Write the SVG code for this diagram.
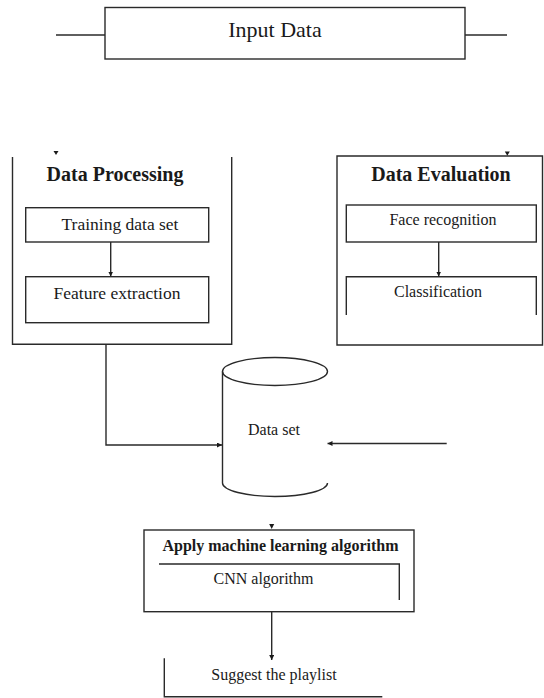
<svg xmlns="http://www.w3.org/2000/svg" width="544" height="698" viewBox="0 0 544 698">
<defs>
<style>
.ln{fill:none;stroke:#2a2a2a;stroke-width:1.4}
.t{font-family:"Liberation Serif","Times New Roman",serif;fill:#1a1a1a;text-anchor:middle}
.b{font-weight:bold}
.ah{fill:#1a1a1a}
</style>
<marker id="arr" viewBox="0 0 8 8" refX="8" refY="4" markerWidth="5" markerHeight="5" orient="auto" markerUnits="userSpaceOnUse">
<path d="M0,0 L8,4 L0,8 z" fill="#1a1a1a"/>
</marker>
</defs>
<rect width="544" height="698" fill="#ffffff"/>

<g id="input-data">
<rect class="ln" x="105" y="7.5" width="360" height="51.5"/>
<line class="ln" x1="56" y1="35" x2="105" y2="35"/>
<line class="ln" x1="465" y1="35" x2="507" y2="35"/>
<text class="t" x="275" y="37" font-size="22">Input Data</text>
</g>

<g id="data-processing">
<path class="ln" d="M12.5,157 V344.3 H231.7 V157"/>
<text class="t b" x="115" y="181" font-size="20">Data Processing</text>
</g>
<g id="training-data-set">
<rect class="ln" x="25.7" y="207.7" width="183" height="34.3"/>
<text class="t" x="120" y="229.5" font-size="17.5">Training data set</text>
</g>
<g id="feature-extraction">
<rect class="ln" x="25.7" y="276.7" width="183" height="46"/>
<text class="t" x="117" y="298.5" font-size="17.5">Feature extraction</text>
</g>

<g id="data-evaluation">
<path class="ln" d="M337,156 H542.5 V345 H337 Z"/>
<text class="t b" x="441" y="181" font-size="20">Data Evaluation</text>
</g>
<g id="face-recognition">
<rect class="ln" x="346.3" y="205" width="190" height="37"/>
<text class="t" x="443" y="224.5" font-size="16">Face recognition</text>
</g>
<g id="classification">
<path class="ln" d="M346.3,315 V276.7 H536.3 V315"/>
<text class="t" x="438" y="297" font-size="16">Classification</text>
</g>

<g id="data-set">
<ellipse class="ln" cx="275" cy="371.5" rx="52.5" ry="14"/>
<path class="ln" d="M222.5,371.5 V483 A52.5,13.5 0 0 0 327.5,483"/>
<text class="t" x="274" y="435" font-size="16">Data set</text>
</g>

<g id="apply-ml">
<rect class="ln" x="144" y="530" width="270" height="81.7"/>
<text class="t b" x="280.5" y="550.5" font-size="16">Apply machine learning algorithm</text>
</g>
<g id="cnn-algorithm">
<path class="ln" d="M159,564 H399.3 V600"/>
<text class="t" x="263.5" y="583.5" font-size="16">CNN algorithm</text>
</g>

<g id="suggest-playlist">
<path class="ln" d="M164.3,658.3 V696.7 H382.3"/>
<text class="t" x="274" y="680" font-size="16">Suggest the playlist</text>
</g>

<g id="connectors">
<line class="ln" x1="110.7" y1="242" x2="110.7" y2="276.5" marker-end="url(#arr)"/>
<line class="ln" x1="438.7" y1="242" x2="438.7" y2="276.5" marker-end="url(#arr)"/>
<path class="ln" d="M106,344.3 V445 H222" marker-end="url(#arr)"/>
<line class="ln" x1="446.7" y1="443.5" x2="327.5" y2="443.5" marker-end="url(#arr)"/>
<line class="ln" x1="271.7" y1="611.7" x2="271.7" y2="660" marker-end="url(#arr)"/>
<path class="ah" d="M53.5,151 L58.5,151 L56,155 Z"/>
<path class="ah" d="M504.8,151.5 L509.8,151.5 L507.3,155.8 Z"/>
<path class="ah" d="M269.2,524 L274.2,524 L271.7,529 Z"/>
</g>
</svg>
